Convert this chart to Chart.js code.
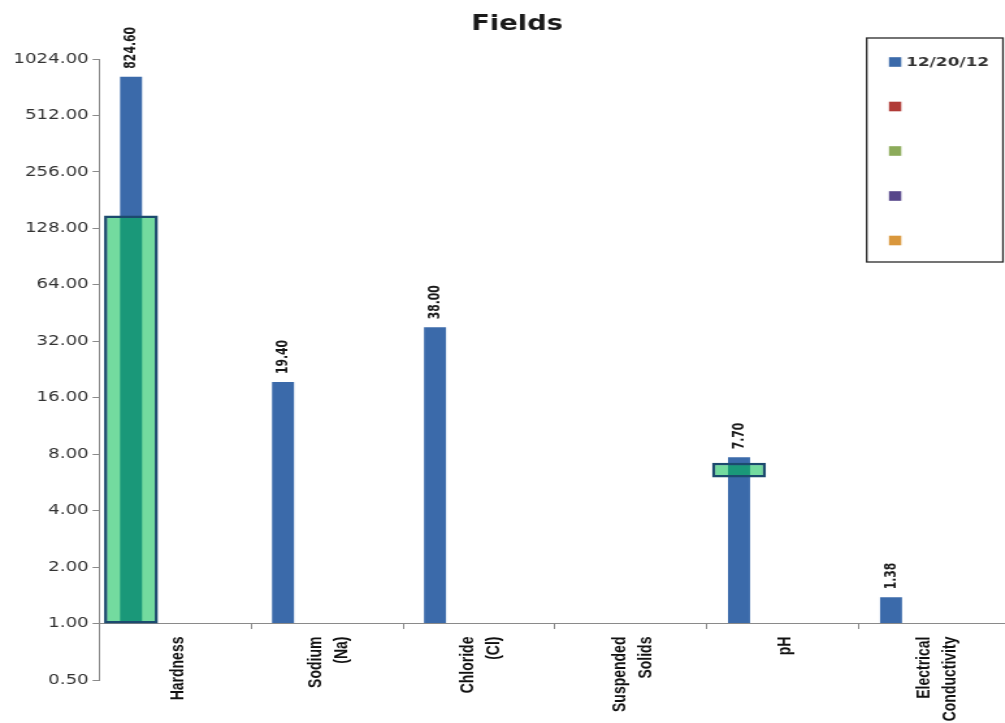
<!DOCTYPE html>
<html>
<head>
<meta charset="utf-8">
<title>Fields</title>
<script src="https://cdn.jsdelivr.net/npm/chart.js@4/dist/chart.umd.min.js"></script>
<style>
  html, body { margin: 0; padding: 0; background: #ffffff; width: 1005px; height: 723px; overflow: hidden; }
  /* the chart is laid out narrow and widened horizontally */
  #fields { display: block; transform: scaleX(1.3); transform-origin: 0 0; }
</style>
</head>
<body>
<canvas id="fields" width="795" height="723"></canvas>
<script>
// ---- data ----
const chartTitle = 'Fields';
const categories = [
  ['Hardness'],
  ['Sodium', '(Na)'],
  ['Chloride', '(Cl)'],
  ['Suspended', 'Solids'],
  ['pH'],
  ['Electrical', 'Conductivity']
];
const seriesLabels = ['12/20/12', '', '', '', ''];
const seriesColors = ['#3b6aaa', '#b03a36', '#8cab5a', '#56468a', '#d9973c'];
const sampleValues = [824.60, 19.40, 38.00, null, 7.70, 1.38];
// acceptable ranges shown as outlined boxes
const limitRanges = [[1, 150], null, null, null, [6, 7.2], null];
const yTickValues = [0.5, 1, 2, 4, 8, 16, 32, 64, 128, 256, 512, 1024];

const CAT_PCT = 0.724;
const TEXT_DARK = '#1a1a1a';

const seriesDatasets = seriesLabels.map((label, i) => ({
  label: label,
  data: i === 0 ? sampleValues : categories.map(() => null),
  stack: 's' + i,
  base: 1,
  backgroundColor: seriesColors[i],
  borderWidth: 0,
  barPercentage: 1,
  categoryPercentage: CAT_PCT,
  order: 0
}));

const limitDataset = {
  label: 'limits',
  data: limitRanges,
  stack: 's0',
  backgroundColor: 'rgba(0, 190, 80, 0.55)',
  borderColor: '#1c4a6e',
  borderWidth: 2.5,
  borderSkipped: false,
  barPercentage: 2.45,
  categoryPercentage: CAT_PCT,
  order: -1
};

// chart title, centred over the plot
const titlePlugin = {
  id: 'fieldsTitle',
  afterDraw(chart) {
    const ctx = chart.ctx;
    ctx.save();
    ctx.font = "bold 21px 'DejaVu Sans', sans-serif";
    ctx.fillStyle = TEXT_DARK;
    ctx.textAlign = 'center';
    ctx.textBaseline = 'alphabetic';
    ctx.fillText(chartTitle, 397.7, 29.5);
    ctx.restore();
  }
};

// value labels written vertically above each sample bar
const valueLabels = {
  id: 'valueLabels',
  afterDatasetsDraw(chart) {
    const meta = chart.getDatasetMeta(1);
    const ctx = chart.ctx;
    ctx.save();
    ctx.font = "bold 12px 'Liberation Sans Narrow', 'Arial Narrow', 'DejaVu Sans Condensed', sans-serif";
    ctx.fillStyle = TEXT_DARK;
    ctx.textAlign = 'left';
    ctx.textBaseline = 'middle';
    meta.data.forEach((bar, i) => {
      const v = sampleValues[i];
      if (v === null || v === undefined) return;
      ctx.save();
      ctx.translate(bar.x, bar.y - 8);
      ctx.rotate(-Math.PI / 2);
      ctx.fillText(v.toFixed(2), 0, 0);
      ctx.restore();
    });
    ctx.restore();
  }
};

// vertical category names hanging below the axis line at 1.00
const categoryLabels = {
  id: 'categoryLabels',
  afterDraw(chart) {
    const xs = chart.scales.x;
    const yAxisLine = chart.scales.y.getPixelForValue(1);
    const ctx = chart.ctx;
    const lineStep = 20;
    ctx.save();
    ctx.font = "bold 14px 'Liberation Sans', Arial, sans-serif";
    ctx.fillStyle = '#111111';
    ctx.textAlign = 'right';
    ctx.textBaseline = 'middle';
    categories.forEach((lines, i) => {
      const cx = xs.getPixelForTick(i) + 2;
      lines.forEach((text, j) => {
        const x = cx + (j - (lines.length - 1) / 2) * lineStep;
        ctx.save();
        ctx.translate(x, yAxisLine + 13);
        ctx.rotate(-Math.PI / 2);
        ctx.fillText(text, 0, 0);
        ctx.restore();
      });
    });
    ctx.restore();
  }
};

// boxed legend in the upper right corner
const boxLegend = {
  id: 'boxLegend',
  afterDraw(chart) {
    const ctx = chart.ctx;
    const left = 666.7, right = 771.5, top = 38, bottom = 262;
    ctx.save();
    ctx.strokeStyle = '#2a2a2a';
    ctx.lineWidth = 1.3;
    ctx.strokeRect(left, top, right - left, bottom - top);
    const rowY = [62, 106.5, 151, 196, 240.5];
    ctx.font = "bold 13px 'DejaVu Sans', sans-serif";
    ctx.textAlign = 'left';
    ctx.textBaseline = 'middle';
    seriesLabels.forEach((label, i) => {
      const y = rowY[i];
      ctx.fillStyle = seriesColors[i];
      ctx.fillRect(683.8, y - 4.8, 9.5, 9.6);
      if (label) {
        ctx.fillStyle = '#333333';
        ctx.fillText(label, 697, y + 0.5);
      }
    });
    ctx.restore();
  }
};

new Chart(document.getElementById('fields'), {
  type: 'bar',
  data: {
    labels: categories,
    datasets: [limitDataset, ...seriesDatasets]
  },
  plugins: [titlePlugin, valueLabels, categoryLabels, boxLegend],
  options: {
    responsive: false,
    animation: false,
    devicePixelRatio: 1,
    layout: { padding: { left: 0, right: 17.3, top: 59, bottom: 43 } },
    plugins: {
      legend: { display: false },
      tooltip: { enabled: false },
      title: { display: false }
    },
    scales: {
      x: {
        type: 'category',
        position: { y: 1 },
        offset: true,
        border: { display: true, color: '#8a8a8a', width: 1 },
        grid: { display: true, drawOnChartArea: false, drawTicks: true, tickLength: 5, color: '#8a8a8a', offset: true },
        ticks: { display: false, autoSkip: false }
      },
      y: {
        type: 'logarithmic',
        position: 'left',
        min: 0.5,
        max: 1024,
        stacked: false,
        afterBuildTicks: (axis) => { axis.ticks = yTickValues.map(v => ({ value: v })); },
        afterFit: (axis) => { axis.width = 76.2; },
        border: { display: true, color: '#8a8a8a', width: 1 },
        grid: { display: true, drawOnChartArea: false, drawTicks: true, tickLength: 5, color: '#8a8a8a' },
        ticks: {
          padding: 3,
          crossAlign: 'near',
          color: '#333333',
          font: { family: "'DejaVu Sans', sans-serif", size: 14 },
          callback: (v) => Number(v).toFixed(2)
        }
      }
    }
  }
});
</script>
</body>
</html>
